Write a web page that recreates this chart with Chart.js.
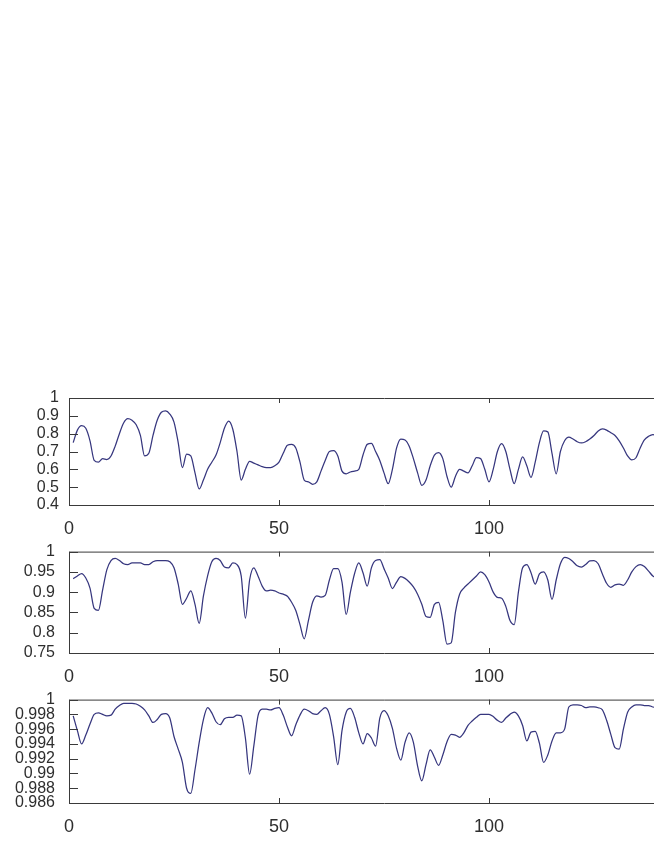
<!DOCTYPE html>
<html><head><meta charset="utf-8">
<script src="https://cdn.jsdelivr.net/npm/chart.js@4.4.1/dist/chart.umd.min.js"></script>
<style>
html,body{margin:0;padding:0;background:#fff;width:654px;height:846px;overflow:hidden;position:relative;}
canvas{position:absolute;left:0;}
</style></head><body>
<canvas id="c1" width="760" height="167" style="top:378px"></canvas>
<canvas id="c2" width="760" height="165" style="top:528px"></canvas>
<canvas id="c3" width="760" height="167" style="top:676px"></canvas>
<script>
// ---- data ----
const series1 = [0.75,0.82,0.845,0.83,0.76,0.65,0.64,0.66,0.655,0.675,0.73,0.8,0.86,0.884,0.875,0.85,0.79,0.675,0.69,0.79,
0.875,0.92,0.928,0.91,0.865,0.75,0.61,0.685,0.675,0.58,0.49,0.54,0.6,0.64,0.68,0.75,0.83,0.87,0.825,0.7,
0.54,0.6,0.645,0.635,0.625,0.615,0.61,0.61,0.62,0.64,0.69,0.735,0.74,0.72,0.64,0.54,0.53,0.516,0.53,0.59,
0.65,0.7,0.705,0.675,0.59,0.575,0.585,0.59,0.6,0.68,0.74,0.745,0.7,0.65,0.58,0.52,0.6,0.72,0.77,0.765,
0.73,0.66,0.58,0.51,0.54,0.62,0.68,0.694,0.66,0.56,0.5,0.56,0.6,0.59,0.58,0.62,0.665,0.66,0.6,0.53,
0.6,0.7,0.744,0.7,0.6,0.52,0.6,0.67,0.62,0.555,0.64,0.75,0.815,0.81,0.69,0.575,0.7,0.76,0.78,0.77,
0.755,0.748,0.755,0.77,0.79,0.815,0.827,0.82,0.805,0.79,0.76,0.72,0.675,0.653,0.665,0.72,0.765,0.785,0.795,0.79,0.78];
const series2 = [0.933,0.94,0.946,0.935,0.91,0.86,0.855,0.905,0.955,0.978,0.983,0.978,0.97,0.968,0.972,0.972,0.972,0.968,0.968,0.975,
0.978,0.978,0.978,0.975,0.96,0.92,0.87,0.885,0.903,0.87,0.823,0.89,0.94,0.975,0.983,0.978,0.962,0.96,0.972,0.968,
0.94,0.836,0.93,0.96,0.94,0.915,0.903,0.905,0.903,0.898,0.895,0.89,0.875,0.855,0.82,0.785,0.83,0.875,0.891,0.888,
0.892,0.93,0.958,0.958,0.925,0.845,0.9,0.946,0.972,0.948,0.915,0.96,0.978,0.98,0.958,0.935,0.909,0.925,0.938,0.934,
0.925,0.913,0.895,0.87,0.84,0.838,0.87,0.875,0.83,0.772,0.775,0.85,0.895,0.91,0.92,0.93,0.94,0.95,0.943,0.925,
0.9,0.887,0.885,0.865,0.83,0.82,0.9,0.96,0.968,0.948,0.92,0.945,0.95,0.93,0.882,0.93,0.97,0.986,0.983,0.975,
0.965,0.962,0.968,0.977,0.978,0.97,0.945,0.922,0.912,0.918,0.92,0.917,0.93,0.95,0.963,0.968,0.963,0.952,0.94,0.935,0.93];
const series3 = [0.9978,0.9958,0.9940,0.9952,0.9967,0.9980,0.9982,0.9980,0.9978,0.9979,0.9987,0.9992,0.9995,0.9995,0.9995,0.9994,0.9991,0.9986,0.9978,0.9969,
0.9973,0.9980,0.9981,0.9975,0.9950,0.9933,0.9915,0.9880,0.9873,0.9905,0.9942,0.9973,0.9989,0.9982,0.9970,0.9966,0.9974,0.9976,0.9976,0.9979,
0.9978,0.9948,0.9899,0.9937,0.9978,0.9987,0.9987,0.9986,0.9988,0.9989,0.9979,0.9963,0.9951,0.9966,0.9979,0.9987,0.9985,0.9981,0.9980,0.9985,
0.9989,0.9980,0.9950,0.9912,0.9958,0.9983,0.9988,0.9976,0.9955,0.9940,0.9954,0.9948,0.9937,0.9975,0.9985,0.9978,0.9961,0.9934,0.9918,0.9942,
0.9955,0.9942,0.9910,0.9890,0.9912,0.9932,0.9922,0.9911,0.9925,0.9943,0.9953,0.9952,0.9949,0.9955,0.9965,0.9971,0.9976,0.9980,0.9980,0.9980,
0.9977,0.9972,0.9969,0.9975,0.9980,0.9983,0.9978,0.9965,0.9944,0.9956,0.9957,0.9941,0.9915,0.9925,0.9944,0.9955,0.9955,0.9960,0.9990,0.9993,
0.9993,0.9992,0.9989,0.9990,0.9990,0.9989,0.9986,0.9972,0.9953,0.9935,0.9933,0.9960,0.9983,0.9990,0.9993,0.9993,0.9992,0.9992,0.9990,0.9989,0.9989];
const sampleIndex = series1.map((_, i) => i + 1);
const xTicks = [0, 50, 100, 150];
const yTicks1 = [0.4, 0.5, 0.6, 0.7, 0.8, 0.9, 1];
const yTicks2 = [0.75, 0.8, 0.85, 0.9, 0.95, 1];
const yTicks3 = [0.986, 0.988, 0.99, 0.992, 0.994, 0.996, 0.998, 1];

// ---- drawing ----
const LINE = '#36367e', AXIS = '#3a3a3a', TEXT = '#2e2e2e';
const framePlugin = {
  id: 'frame',
  afterDatasetsDraw(chart) {
    const {ctx, chartArea: a, scales: {x, y}} = chart;
    ctx.save();
    ctx.strokeStyle = AXIS; ctx.lineWidth = 1;
    ctx.beginPath();
    ctx.rect(a.left + 0.5, a.top + 0.5, a.right - a.left, a.bottom - a.top);
    y.ticks.forEach(t => {
      const py = Math.round(y.getPixelForValue(t.value)) + 0.5;
      ctx.moveTo(a.left, py); ctx.lineTo(a.left + 9, py);
      ctx.moveTo(a.right, py); ctx.lineTo(a.right - 9, py);
    });
    x.ticks.forEach(t => {
      const px = Math.round(x.getPixelForValue(t.value)) + 0.5;
      ctx.moveTo(px, a.bottom); ctx.lineTo(px, a.bottom - 5);
      ctx.moveTo(px, a.top); ctx.lineTo(px, a.top + 5);
    });
    ctx.stroke();
    ctx.restore();
  }
};

function makeChart(id, values, yTicks, yPad) {
  new Chart(document.getElementById(id), {
    type: 'line',
    data: { datasets: [{
      data: sampleIndex.map((x, i) => ({x, y: values[i]})),
      borderColor: LINE, borderWidth: 1.25, pointRadius: 0,
      cubicInterpolationMode: 'monotone', fill: false
    }]},
    options: {
      responsive: false, animation: false, events: [],
      layout: { padding: { top: 20, left: 0, right: 61, bottom: 0 } },
      plugins: { legend: { display: false }, tooltip: { enabled: false } },
      scales: {
        x: {
          type: 'linear', min: 0, max: 150,
          grid: { display: false, drawTicks: false }, border: { display: false },
          afterBuildTicks: s => { s.ticks = xTicks.map(v => ({value: v})); },
          afterFit: s => { s.height = 40; },
          ticks: { autoSkip: false, maxRotation: 0, padding: 13, color: TEXT,
                   font: { family: '"Liberation Sans", Arial, sans-serif', size: 18 },
                   callback: v => String(v) }
        },
        y: {
          min: yTicks[0], max: yTicks[yTicks.length - 1],
          grid: { display: false, drawTicks: false }, border: { display: false },
          afterBuildTicks: s => { s.ticks = yTicks.map(v => ({value: v})); },
          afterFit: s => { s.width = 69; },
          ticks: { autoSkip: false, padding: yPad, color: TEXT,
                   font: { family: '"Liberation Sans", Arial, sans-serif', size: 16 },
                   callback: v => String(v) }
        }
      }
    },
    plugins: [framePlugin]
  });
}
makeChart('c1', series1, yTicks1, 10);
makeChart('c2', series2, yTicks2, 14);
makeChart('c3', series3, yTicks3, 14);
</script>
</body></html>
